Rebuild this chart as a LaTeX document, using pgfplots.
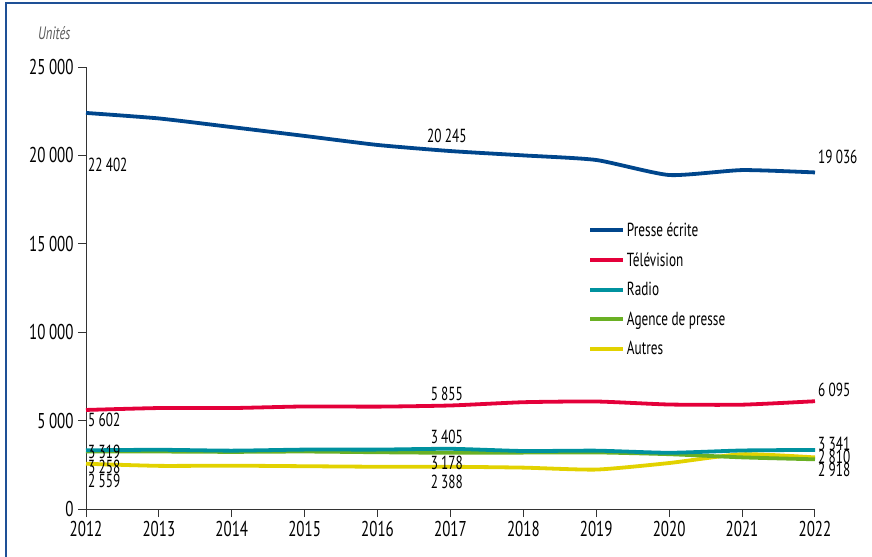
\documentclass[border=0pt]{standalone}
\usepackage{fontspec}
\setmainfont{PT Sans}[FakeStretch=0.7]
\usepackage{pgfplots}
\pgfplotsset{compat=1.18}
\definecolor{cpresse}{RGB}{0,70,140}
\definecolor{ctele}{RGB}{228,0,58}
\definecolor{cradio}{RGB}{0,146,159}
\definecolor{cagence}{RGB}{106,176,35}
\definecolor{cautres}{RGB}{226,210,0}
\definecolor{cframe}{RGB}{30,80,150}
\begin{document}
\begin{tikzpicture}
\path[use as bounding box] (0,0) rectangle (872bp,557bp);
\draw[cframe, line width=1.2bp] (6bp,0) -- (6bp,554bp) -- (872bp,554bp);
\node[anchor=east, font=\fontsize{18}{19}\selectfont\itshape, text=black!65] at (74bp,524bp) {Unités};
\begin{axis}[
  at={(86bp,48bp)}, anchor=south west,
  scale only axis, width=729bp, height=442bp,
  xmin=2012, xmax=2022, ymin=0, ymax=25000,
  scaled y ticks=false,
  axis lines*=left,
  axis line style={black!80, line width=0.9bp},
  xtick={2012,...,2022},
  xticklabels={2012,2013,2014,2015,2016,2017,2018,2019,2020,2021,2022},
  ytick={0,5000,10000,15000,20000,25000},
  yticklabels={0,5\,000,10\,000,15\,000,20\,000,25\,000},
  tick align=outside,
  major tick length=8bp,
  tick style={black!80, line width=0.9bp},
  ticklabel style={font=\fontsize{21.5}{23}\selectfont},
  xticklabel style={yshift=-1bp},
  yticklabel style={xshift=-1bp},
  clip=false,
  legend cell align=left,
  legend style={at={(rel axis cs:0.6886,0.653)}, anchor=north west, draw=none, fill=none,
    font=\fontsize{19}{20}\selectfont, row sep=10.7bp, inner sep=0pt},
  legend image code/.code={\draw[#1, line width=3.8bp] (0bp,0bp) -- (33bp,0bp);},
  every axis plot/.append style={line width=3.8bp, smooth, tension=0.35},
]
\addplot[cpresse, forget plot] coordinates {(2012,22402) (2013,22090) (2014,21600) (2015,21100) (2016,20590) (2017,20245) (2018,20000) (2019,19740) (2020,18890) (2021,19170) (2022,19036)};
\addplot[ctele, forget plot] coordinates {(2012,5602) (2013,5710) (2014,5710) (2015,5800) (2016,5790) (2017,5855) (2018,6040) (2019,6080) (2020,5910) (2021,5900) (2022,6095)};
\addplot[cautres, forget plot] coordinates {(2012,2559) (2013,2440) (2014,2450) (2015,2420) (2016,2390) (2017,2388) (2018,2340) (2019,2230) (2020,2600) (2021,3100) (2022,2918)};
\addplot[cagence, forget plot] coordinates {(2012,3258) (2013,3250) (2014,3230) (2015,3250) (2016,3210) (2017,3178) (2018,3190) (2019,3200) (2020,3100) (2021,2920) (2022,2810)};
\addplot[cradio, forget plot] coordinates {(2012,3319) (2013,3350) (2014,3300) (2015,3360) (2016,3360) (2017,3405) (2018,3280) (2019,3300) (2020,3180) (2021,3310) (2022,3341)};
\addlegendimage{cpresse}\addlegendentry{Presse écrite}
\addlegendimage{ctele}\addlegendentry{Télévision}
\addlegendimage{cradio}\addlegendentry{Radio}
\addlegendimage{cagence}\addlegendentry{Agence de presse}
\addlegendimage{cautres}\addlegendentry{Autres}
\begin{scope}[every node/.style={font=\fontsize{19}{20}\selectfont, inner sep=0pt}]
\node[anchor=west] at (axis cs:2012,19457) {\hspace{2bp}22\,402};
\node[anchor=west] at (axis cs:2012,5034) {\hspace{2bp}5\,602};
\node[anchor=west] at (axis cs:2012,3224) {\hspace{2bp}3\,319};
\node[anchor=west] at (axis cs:2012,2376) {\hspace{2bp}3\,258};
\node[anchor=west] at (axis cs:2012,1584) {\hspace{2bp}2\,559};
\node at (axis cs:2016.95,21097) {20\,245};
\node at (axis cs:2016.95,6505) {5\,855};
\node at (axis cs:2016.95,4072) {3\,405};
\node at (axis cs:2016.95,2602) {3\,178};
\node at (axis cs:2016.95,1527) {2\,388};
\node[anchor=west] at (axis cs:2022,19910) {\hspace{3bp}19\,036};
\node[anchor=west] at (axis cs:2022,6731) {\hspace{3bp}6\,095};
\node[anchor=west] at (axis cs:2022,3676) {\hspace{3bp}3\,341};
\node[anchor=west] at (axis cs:2022,2941) {\hspace{3bp}2\,810};
\node[anchor=west] at (axis cs:2022,2206) {\hspace{3bp}2\,918};
\end{scope}
\end{axis}
\end{tikzpicture}
\end{document}
